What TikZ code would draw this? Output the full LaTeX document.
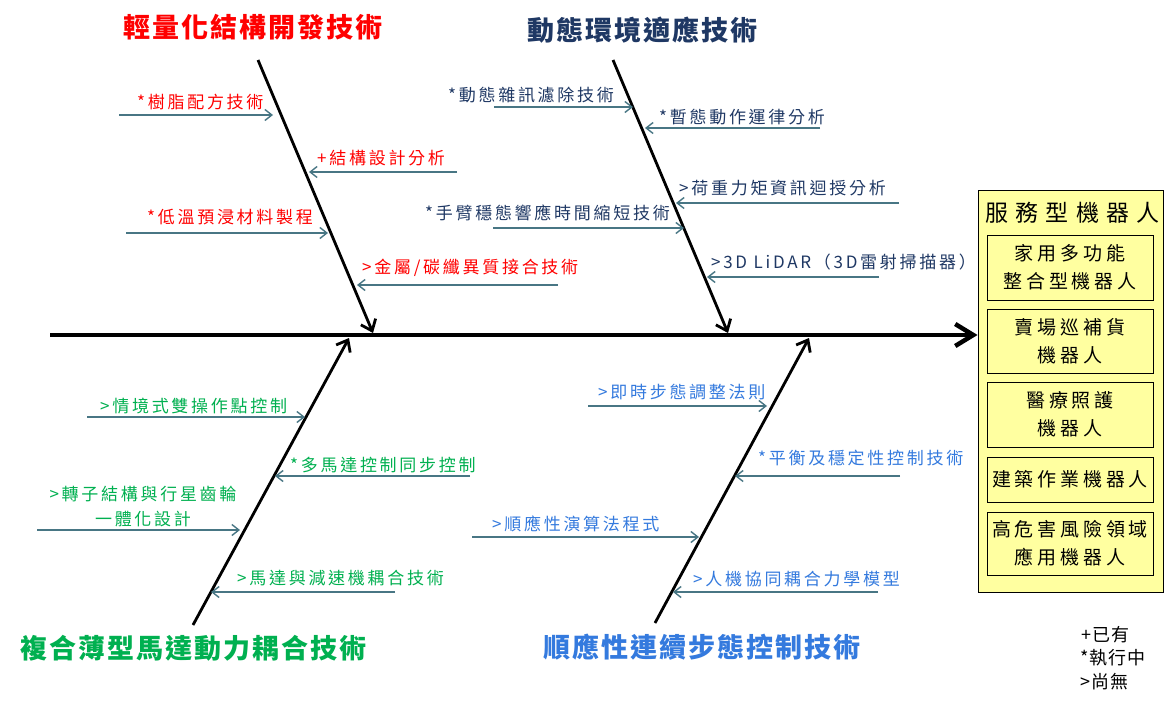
\documentclass[tikz,border=0pt]{standalone}
\usepackage{fontspec}
\usetikzlibrary{arrows.meta}
\newfontfamily\labfont{Noto Sans CJK TC}[LetterSpace=16]
\newfontfamily\ttlfont{Noto Sans CJK TC}[LetterSpace=7.5]
\newfontfamily\boxfont{Noto Sans CJK TC}[LetterSpace=20]
\newfontfamily\hdrfont{Noto Sans CJK TC}[LetterSpace=32]
\newfontfamily\legfont{Noto Sans CJK TC}[LetterSpace=6]
\definecolor{cred}{RGB}{255,0,0}
\definecolor{cnavy}{RGB}{31,56,100}
\definecolor{cgreen}{RGB}{0,176,80}
\definecolor{cblue}{RGB}{52,122,222}
\definecolor{carrow}{RGB}{72,118,132}
\definecolor{cbox}{RGB}{255,255,160}
\tikzset{
  lab/.style={font=\labfont\fontsize{17}{25}\selectfont, inner sep=0pt, anchor=west},
  ttl/.style={font=\ttlfont\bfseries\fontsize{27}{30}\selectfont, inner sep=0pt, anchor=west},
  spine/.style={line width=4.5pt, -{Straight Barb[length=18pt,width=22pt]}},
  bone/.style={line width=2.8pt, -{Straight Barb[length=10pt,width=16pt]}},
  sarrow/.style={draw=carrow, line width=1.4pt, -{Straight Barb[length=7pt,width=11pt]}},
  outerbox/.style={draw=black, line width=0.9pt, fill=cbox},
  innerbox/.style={draw=black, line width=0.9pt, fill=cbox, minimum width=166pt, inner sep=0pt, align=center, font=\boxfont\fontsize{19}{28}\selectfont},
  hdr/.style={font=\hdrfont\fontsize{23}{28}\selectfont, inner sep=0pt, anchor=west},
  leg/.style={font=\legfont\fontsize{18}{20}\selectfont, inner sep=0pt, anchor=west}
}
\begin{document}
\begin{tikzpicture}[x=1pt,y=-1pt]
\useasboundingbox[fill=white] (0,0) rectangle (1176,704);

% titles
\node[ttl, text=cred]   (t1) at (123,27)  {輕量化結構開發技術};
\node[ttl, text=cnavy]  (t2) at (527,30)  {動態環境適應技術};
\node[ttl, text=cgreen] (t3) at (20,648)  {複合薄型馬達動力耦合技術};
\node[ttl, text=cblue]  (t4) at (543,647) {順應性連續步態控制技術};

% service robot box
\node[outerbox, minimum width=185pt, minimum height=402pt, inner sep=0pt] (box) at (1070.5,391) {};
\node[hdr] (hdr) at (985,213) {服務型機器人};
\node[innerbox, minimum height=65pt] (r1) at (1070,267.5) {家用多功能\\整合型機器人};
\node[innerbox, minimum height=64pt] (r2) at (1070,341) {賣場巡補貨\\機器人};
\node[innerbox, minimum height=65pt] (r3) at (1070,414.5) {醫療照護\\機器人};
\node[innerbox, minimum height=45pt] (r4) at (1070,479.5) {建築作業機器人};
\node[innerbox, minimum height=63pt] (r5) at (1070,543.5) {高危害風險領域\\應用機器人};

% spine and bones
\coordinate (ss) at (50,335);
\draw[spine] (ss) -- (ss -| box.west);
\coordinate (b1s) at (258,60);  \coordinate (b1e) at (373,333);
\coordinate (b2s) at (613,60);  \coordinate (b2e) at (728,333);
\coordinate (b3s) at (193,625); \coordinate (b3e) at (349,338);
\coordinate (b4s) at (655,623); \coordinate (b4e) at (809,338);
\draw[bone] (b1s) -- (b1e);
\draw[bone] (b2s) -- (b2e);
\draw[bone] (b3s) -- (b3e);
\draw[bone] (b4s) -- (b4e);

% top-left labels (red)
\node[lab, text=cred] (l1) at (137,102) {*樹脂配方技術};
\node[lab, text=cred] (l2) at (317,158) {+結構設計分析};
\node[lab, text=cred] (l3) at (147,217) {*低溫預浸材料製程};
\node[lab, text=cred] (l4) at (362,268) {>金屬/碳纖異質接合技術};
\coordinate (l1a) at (119,115); \coordinate (l1b) at (273,115);
\coordinate (l2a) at (457,172); \coordinate (l2b) at (309,172);
\coordinate (l3a) at (126,233); \coordinate (l3b) at (328,233);
\coordinate (l4a) at (558,285); \coordinate (l4b) at (357,285);
\draw[sarrow] (l1a) -- (l1b);
\draw[sarrow] (l2a) -- (l2b);
\draw[sarrow] (l3a) -- (l3b);
\draw[sarrow] (l4a) -- (l4b);

% top-right labels (navy)
\node[lab, text=cnavy] (n1) at (448,95)  {*動態雜訊濾除技術};
\node[lab, text=cnavy] (n2) at (659,117) {*暫態動作運律分析};
\node[lab, text=cnavy] (n3) at (679,188) {>荷重力矩資訊迴授分析};
\node[lab, text=cnavy] (n4) at (425,213) {*手臂穩態響應時間縮短技術};
\node[lab, text=cnavy] (n5) at (711,262) {>3D LiDAR（3D雷射掃描器）};
\coordinate (n1a) at (494,107); \coordinate (n1b) at (633,107);
\coordinate (n2a) at (820,128); \coordinate (n2b) at (645,128);
\coordinate (n3a) at (899,203); \coordinate (n3b) at (676,203);
\coordinate (n4a) at (493,228); \coordinate (n4b) at (684,228);
\coordinate (n5a) at (879,277); \coordinate (n5b) at (707,277);
\draw[sarrow] (n1a) -- (n1b);
\draw[sarrow] (n2a) -- (n2b);
\draw[sarrow] (n3a) -- (n3b);
\draw[sarrow] (n4a) -- (n4b);
\draw[sarrow] (n5a) -- (n5b);

% bottom-left labels (green)
\node[lab, text=cgreen] (g1) at (100,406) {>情境式雙操作點控制};
\node[lab, text=cgreen] (g2) at (290,465) {*多馬達控制同步控制};
\node[lab, text=cgreen, anchor=center, align=center] (g3) at (143,507) {>轉子結構與行星齒輪\\一體化設計};
\node[lab, text=cgreen] (g4) at (237,578) {>馬達與減速機耦合技術};
\coordinate (g1a) at (87,417);  \coordinate (g1b) at (305,417);
\coordinate (g2a) at (470,476); \coordinate (g2b) at (275,476);
\coordinate (g3a) at (37,530);  \coordinate (g3b) at (240,530);
\coordinate (g4a) at (395,592); \coordinate (g4b) at (211,592);
\draw[sarrow] (g1a) -- (g1b);
\draw[sarrow] (g2a) -- (g2b);
\draw[sarrow] (g3a) -- (g3b);
\draw[sarrow] (g4a) -- (g4b);

% bottom-right labels (blue)
\node[lab, text=cblue] (c1) at (598,392) {>即時步態調整法則};
\node[lab, text=cblue] (c2) at (758,458) {*平衡及穩定性控制技術};
\node[lab, text=cblue] (c3) at (492,524) {>順應性演算法程式};
\node[lab, text=cblue] (c4) at (693,579) {>人機協同耦合力學模型};
\coordinate (c1a) at (588,406); \coordinate (c1b) at (767,406);
\coordinate (c2a) at (900,476); \coordinate (c2b) at (735,476);
\coordinate (c3a) at (472,537); \coordinate (c3b) at (699,537);
\coordinate (c4a) at (878,592); \coordinate (c4b) at (673,592);
\draw[sarrow] (c1a) -- (c1b);
\draw[sarrow] (c2a) -- (c2b);
\draw[sarrow] (c3a) -- (c3b);
\draw[sarrow] (c4a) -- (c4b);

% legend
\node[leg] (k1) at (1081,635) {+已有};
\node[leg] (k2) at (1080,658) {*執行中};
\node[leg] (k3) at (1080,682) {>尚無};
\end{tikzpicture}
\end{document}
